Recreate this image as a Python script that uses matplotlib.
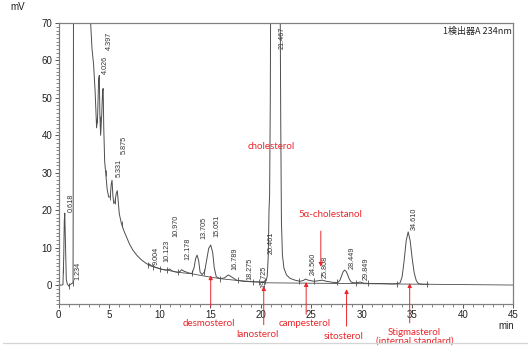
import matplotlib
matplotlib.use("Agg")
import matplotlib.pyplot as plt
import numpy as np
from matplotlib.lines import Line2D

# chromatogram trace (min, mV); values above 70 are off scale
trace_t = [0.0, 0.3, 0.42, 0.5, 0.55, 0.6, 0.68, 0.75, 0.85, 1.0, 1.15, 1.3, 1.42, 1.48,
           3.1, 3.16, 3.3, 3.45, 3.6, 3.75, 3.85, 3.95, 4.02, 4.08, 4.15, 4.25, 4.35, 4.4,
           4.46, 4.55, 4.65, 4.8, 4.95, 5.1, 5.2, 5.28, 5.36, 5.45, 5.55, 5.7, 5.8, 5.9,
           6.0, 6.2, 6.45, 6.7, 7.0, 7.35, 7.75, 8.2, 8.6, 8.9, 9.0, 9.1, 9.4, 10.1, 10.5,
           10.8, 10.97, 11.15, 11.4, 11.8, 12.0, 12.18, 12.4, 12.9, 13.2, 13.4, 13.55, 13.7,
           13.85, 14.0, 14.2, 14.45, 14.7, 14.85, 15.05, 15.25, 15.4, 15.6, 16.0, 16.4,
           16.78, 17.1, 17.6, 18.27, 18.9, 19.72, 19.9, 20.4, 20.55, 20.65, 20.75, 20.82,
           20.88, 20.95, 21.0, 21.9, 21.98, 22.05, 22.15, 22.3, 22.55, 22.9, 23.4, 23.9,
           24.2, 24.45, 24.7, 25.3, 25.8, 26.1, 26.5, 27.2, 27.65, 27.85, 28.0, 28.15, 28.3,
           28.45, 28.6, 28.75, 28.95, 29.2, 29.5, 29.85, 30.2, 31.0, 32.0, 33.0, 33.6, 33.8,
           34.0, 34.2, 34.4, 34.6, 34.8, 35.0, 35.2, 35.4, 35.6, 36.0, 36.6]
trace_mv = [0.0, 0.0, 0.1, 8.0, 17.0, 19.2, 10.0, 1.5, 0.3, -0.3, 0.2, 0.4, 0.6, 100.0,
            100.0, 70.0, 63.0, 59.0, 52.0, 42.0, 45.0, 55.0, 56.0, 45.0, 40.0, 45.0, 52.0, 52.5,
            42.0, 33.0, 30.0, 25.5, 23.5, 23.5, 27.0, 28.0, 24.0, 21.8, 22.0, 24.5, 25.2, 22.0,
            19.0, 16.5, 14.5, 12.9, 11.0, 9.3, 7.9, 6.7, 5.9, 5.4, 5.6, 5.3, 4.9, 4.3, 4.0,
            4.0, 4.3, 3.9, 3.6, 3.4, 3.6, 4.1, 3.7, 3.2, 3.1, 4.6, 7.0, 8.0,
            6.6, 3.4, 2.8, 3.6, 7.5, 9.8, 10.7, 8.6, 4.6, 2.2, 1.7, 1.9,
            2.7, 2.2, 1.3, 1.0, 0.9, 0.8, 0.8, 0.9, 1.2, 2.5, 8.0, 20.0,
            24.0, 50.0, 90.0, 90.0, 45.0, 17.0, 8.0, 4.5, 2.7, 1.8, 1.3, 1.0,
            1.2, 1.6, 1.3, 1.0, 1.2, 1.3, 1.0, 0.7, 0.7, 1.3, 2.4, 3.5, 4.0,
            3.7, 2.8, 1.7, 0.8, 0.6, 0.6, 0.8, 0.5, 0.4, 0.4, 0.3, 0.4, 0.6,
            2.2, 6.5, 11.8, 14.2, 11.8, 7.0, 3.2, 1.2, 0.4, 0.2, 0.2]

# integration start/stop marks (min)
mark_t = [0.46, 1.05, 1.4, 3.82, 4.09, 4.65, 5.08, 5.57, 6.24, 8.87, 9.37, 10.03, 10.7,
          11.8, 13.2, 14.4, 15.97, 17.78, 19.2, 19.86, 20.46, 23.8, 25.3, 27.6, 29.4,
          30.65, 33.5, 36.5]

# integrator baseline
base_t = [8.87, 9.37, 10.03, 10.7, 11.8, 13.2, 14.4, 15.97, 17.78, 19.2, 19.86, 20.46, 45.0]
base_mv = [5.3, 4.9, 4.3, 4.0, 3.4, 3.0, 2.4, 1.7, 1.2, 0.9, 0.8, 0.6, 0.0]

# retention time labels and the height they sit at
peak_rt = ["0.618", "1.234", "4.026", "4.397", "5.331", "5.875", "9.004", "10.123",
           "10.970", "12.178", "13.705", "15.051", "16.789", "18.275", "19.725",
           "20.461", "21.467", "24.560", "25.808", "28.449", "29.849", "34.610"]
label_mv = [19.5, 1.3, 56.4, 62.7, 28.9, 35.1, 5.3, 6.2, 12.9, 6.7, 12.4, 12.9, 4.0,
            1.3, -0.9, 8.4, 63.0, 2.7, 2.0, 4.4, 1.3, 14.7]

# red compound annotations
sterols = ["desmosterol", "lanosterol", "campesterol", "sitosterol",
           "Stigmasterol\n(internal standard)"]
sterol_t = [15.05, 20.3, 24.5, 28.5, 34.75]
sterol_tip = [2.6, -0.3, 0.8, -1.1, 0.5]
sterol_tail = [-5.8, -10.6, -7.8, -11.0, -10.1]
sterol_text_t = [14.9, 19.65, 24.4, 28.2, 35.25]
sterol_text_mv = [-10.2, -13.1, -10.2, -13.7, -13.9]

red = "#e8262b"
gray = "#4d4d4d"

plt.rcParams['font.family'] = ['Liberation Sans', 'DejaVu Sans']

fig = plt.figure(figsize=(5.28, 3.53), dpi=100)
ax = fig.add_axes([0.1112, 0.1395, 0.8608, 0.7953])

ax.plot(trace_t, trace_mv, color=gray, lw=0.7)
ax.plot(base_t, base_mv, color=gray, lw=0.6)
ax.plot(mark_t, np.interp(mark_t, trace_t, trace_mv), ls='none', marker='|',
        ms=5, mew=0.6, color=gray)

for lab, y in zip(peak_rt, label_mv):
    ax.text(float(lab) + 0.62, y, lab, rotation=90, ha='center', va='bottom',
            fontsize=5.2, color='#333333')

ax.set_xlim(0, 45)
ax.set_ylim(-5, 70)
ax.set_xticks(np.arange(0, 46, 5))
ax.set_xticks(np.arange(0, 46, 1), minor=True)
ax.set_yticks(np.arange(0, 71, 10))
ax.set_yticks(np.arange(-5, 71, 1), minor=True)
ax.tick_params(which='major', length=3, width=0.7, colors='#555555', labelsize=7,
               labelcolor='#222222', pad=1.5)
ax.tick_params(which='minor', length=2, width=0.5, colors='#555555')
for s in ax.spines.values():
    s.set_color('#808080')
    s.set_linewidth(0.9)

ax.text(0.998, 0.985, "1検出器A 234nm", transform=ax.transAxes, ha='right', va='top',
        fontsize=6.5, color='#222222', family=['Noto Sans CJK JP', 'DejaVu Sans'])
fig.text(0.034, 0.979, "mV", ha='center', va='center', fontsize=7, color='#222222')
fig.text(0.958, 0.077, "min", ha='center', va='center', fontsize=7, color='#222222')

lato = ['Lato', 'DejaVu Sans']
for name, t, tip, tail, tx, ty in zip(sterols, sterol_t, sterol_tip, sterol_tail,
                                      sterol_text_t, sterol_text_mv):
    ax.annotate("", xy=(t, tip), xytext=(t, tail), annotation_clip=False,
                arrowprops=dict(arrowstyle='-|>', color=red, lw=0.7,
                                mutation_scale=6, shrinkA=0, shrinkB=0))
    ax.text(tx, ty, name, ha='center', va='center', fontsize=7, color=red,
            family=lato, linespacing=1.0, clip_on=False)

ax.text(21.0, 37.0, "cholesterol", ha='center', va='center', fontsize=7, color=red,
        family=lato)
ax.text(26.85, 18.9, "5α-cholestanol", ha='center', va='center', fontsize=7, color=red,
        family=lato)
ax.annotate("", xy=(25.95, 4.9), xytext=(25.95, 14.4),
            arrowprops=dict(arrowstyle='-|>', color=red, lw=0.7,
                            mutation_scale=6, shrinkA=0, shrinkB=0))

fig.add_artist(Line2D([0.006, 0.998], [0.028, 0.028], color='#d5d5d5', lw=0.9))

fig.savefig("out.png", dpi=100)
